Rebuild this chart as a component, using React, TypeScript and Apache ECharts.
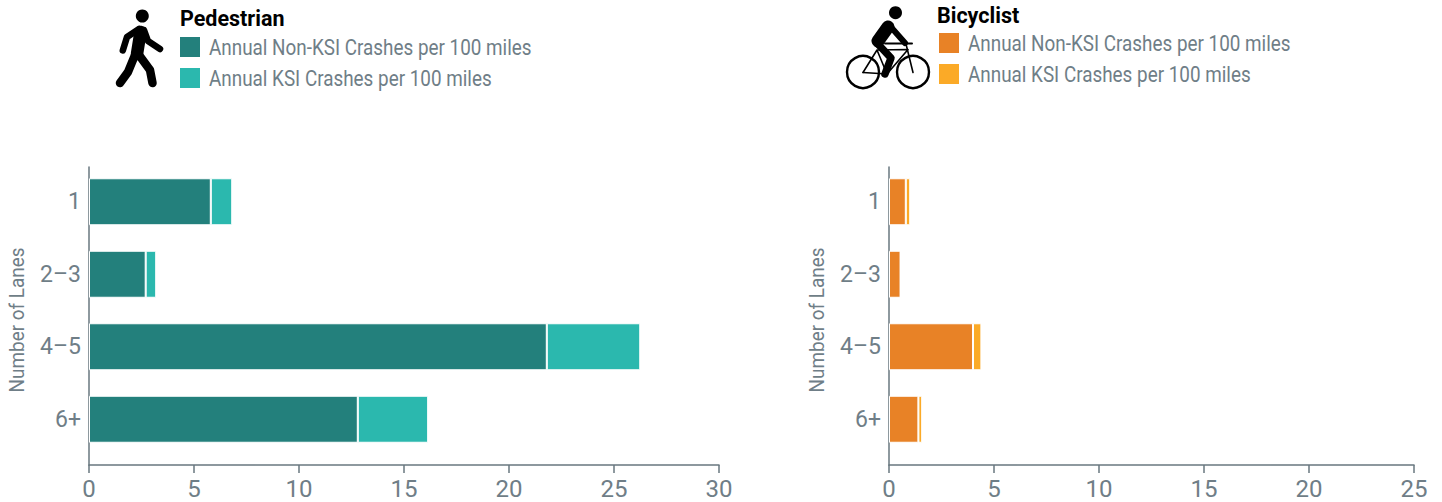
import React, { useEffect, useRef } from "react";
import * as echarts from "echarts";

const lanes = ["1", "2–3", "4–5", "6+"];
const pedNonKsi = [5.8, 2.7, 21.8, 12.8];
const pedKsi = [1.02, 0.5, 4.45, 3.35];
const bikeNonKsi = [0.8, 0.55, 4.0, 1.4];
const bikeKsi = [0.21, 0, 0.4, 0.18];
const pedMax = 30;
const bikeMax = 25;
const legendNon = "Annual Non-KSI Crashes per 100 miles";
const legendKsi = "Annual KSI Crashes per 100 miles";
const lanesTitle = "Number of Lanes";

const GRAY = "#6f7e87";
const AXIS = "#68777f";
const FONT = "Roboto, sans-serif";

const limb = (points: number[][], lineWidth: number) => ({
  type: "polyline",
  shape: { points },
  style: { stroke: "#000", fill: "none", lineWidth, lineCap: "round", lineJoin: "round" },
  silent: true,
});
const thin = (points: number[][], lineWidth = 1.6) => limb(points, lineWidth);
const disc = (cx: number, cy: number, r: number) => ({
  type: "circle",
  shape: { cx, cy, r },
  style: { fill: "#000" },
  silent: true,
});
const wheel = (cx: number, cy: number, r: number) => ({
  type: "circle",
  shape: { cx, cy, r },
  style: { fill: "none", stroke: "#000", lineWidth: 2.4 },
  silent: true,
});

const legendBlock = (
  title: string,
  titleX: number,
  titleY: number,
  swatchX: number,
  swatchY: number[],
  colors: string[],
  labels: string[],
) => [
  {
    type: "text",
    x: titleX,
    y: titleY,
    style: {
      text: title,
      font: "bold 21.5px Roboto, sans-serif",
      fill: "#000",
      textVerticalAlign: "middle",
    },
  },
  ...labels.flatMap((t, i) => [
    { type: "rect", shape: { x: swatchX, y: swatchY[i], width: 20, height: 20 }, style: { fill: colors[i] } },
    {
      type: "text",
      x: swatchX + 29,
      y: swatchY[i] + 11,
      scaleX: 0.878,
      style: {
        text: t,
        font: "21.5px Roboto, sans-serif",
        fill: GRAY,
        textVerticalAlign: "middle",
      },
    },
  ]),
];

const axisTitle = (x: number, y: number) => ({
  type: "text",
  x,
  y,
  rotation: Math.PI / 2,
  scaleX: 0.9,
  style: {
    text: lanesTitle,
    font: "21px Roboto, sans-serif",
    fill: GRAY,
    textAlign: "center",
    textVerticalAlign: "middle",
  },
});

const pedestrian = [
  disc(142.3, 16, 6.5),
  limb([[140.5, 32], [137, 54]], 12.5),
  limb([[139, 29], [127, 37], [122.8, 50.5]], 6.5),
  limb([[144, 30], [148, 41], [160, 49]], 6.5),
  limb([[135, 55], [128, 72], [120, 83]], 8.5),
  limb([[139, 55], [150, 70], [152.5, 83]], 8.5),
];

const bicycle = [
  disc(895.5, 12.7, 6.5),
  limb([[888, 27], [878, 41]], 13),
  limb([[890, 26], [905, 43]], 6),
  thin([[885, 43.5], [912, 43.5]], 2),
  limb([[877, 43], [891, 58], [885, 74]], 7.5),
  thin([[863, 72.5], [877, 50], [887, 74], [908, 49.5], [877, 50]]),
  thin([[863, 72.5], [887, 74]]),
  thin([[906, 44], [913, 72.5]]),
  wheel(863, 72, 16),
  wheel(913, 72, 16),
];

const panel = (
  left: number,
  max: number,
  non: number[],
  ksi: number[],
  colors: string[],
  offset: number,
) => {
  const width = max * 21;
  return {
    grid: [
      { left, top: 167, width, height: 298, outerBoundsMode: "none" },
      { left, top: 165.5, width, height: 290, outerBoundsMode: "none" },
    ],
    xAxis: [
      {
        gridIndex: offset,
        type: "value",
        min: 0,
        max,
        interval: 5,
        splitLine: { show: false },
        axisLine: { show: true, lineStyle: { color: AXIS, width: 1.5 } },
        axisTick: { show: true, length: 8, lineStyle: { color: AXIS, width: 1.5 } },
        axisLabel: { color: GRAY, fontSize: 24, fontFamily: FONT, margin: 12, hideOverlap: false },
      },
      { gridIndex: offset + 1, type: "value", min: 0, max, show: false },
    ],
    yAxis: [
      {
        gridIndex: offset,
        type: "category",
        data: lanes,
        inverse: true,
        axisLine: { show: true, onZero: false, lineStyle: { color: AXIS, width: 1.5 } },
        axisTick: { show: false },
        axisLabel: { show: false },
      },
      {
        gridIndex: offset + 1,
        type: "category",
        data: lanes,
        inverse: true,
        axisLine: { show: false },
        axisTick: { show: false },
        axisLabel: { color: GRAY, fontSize: 23, fontFamily: FONT, margin: 8 },
      },
    ],
    series: [non, ksi].map((data, i) => ({
      type: "bar",
      name: i === 0 ? legendNon : legendKsi,
      xAxisIndex: offset + 1,
      yAxisIndex: offset + 1,
      stack: "crashes" + offset,
      data,
      barWidth: 47,
      itemStyle: { color: colors[i], borderColor: "#fff", borderWidth: 1 },
      silent: true,
    })),
  };
};

export default function App() {
  const ref = useRef<HTMLDivElement>(null);
  useEffect(() => {
    const chart = echarts.init(ref.current!, undefined, { renderer: "svg" });
    const a = panel(89, pedMax, pedNonKsi, pedKsi, ["#23807c", "#2bb8ae"], 0);
    const b = panel(889, bikeMax, bikeNonKsi, bikeKsi, ["#e88226", "#fbaa27"], 2);
    chart.setOption({
      animation: false,
      backgroundColor: "#fff",
      grid: [...a.grid, ...b.grid],
      xAxis: [...a.xAxis, ...b.xAxis],
      yAxis: [...a.yAxis, ...b.yAxis],
      series: [...a.series, ...b.series],
      graphic: [
        ...pedestrian,
        ...bicycle,
        axisTitle(17, 320),
        axisTitle(817, 320),
        ...legendBlock("Pedestrian", 180, 18, 180, [37, 68], ["#23807c", "#2bb8ae"], [legendNon, legendKsi]),
        ...legendBlock("Bicyclist", 937, 15, 939, [33, 64], ["#e88226", "#fbaa27"], [legendNon, legendKsi]),
      ],
    });
    return () => chart.dispose();
  }, []);
  return (
    <div
      ref={ref}
      style={{ position: "fixed", left: 0, top: 0, width: 1442, height: 502, background: "#fff" }}
    />
  );
}
